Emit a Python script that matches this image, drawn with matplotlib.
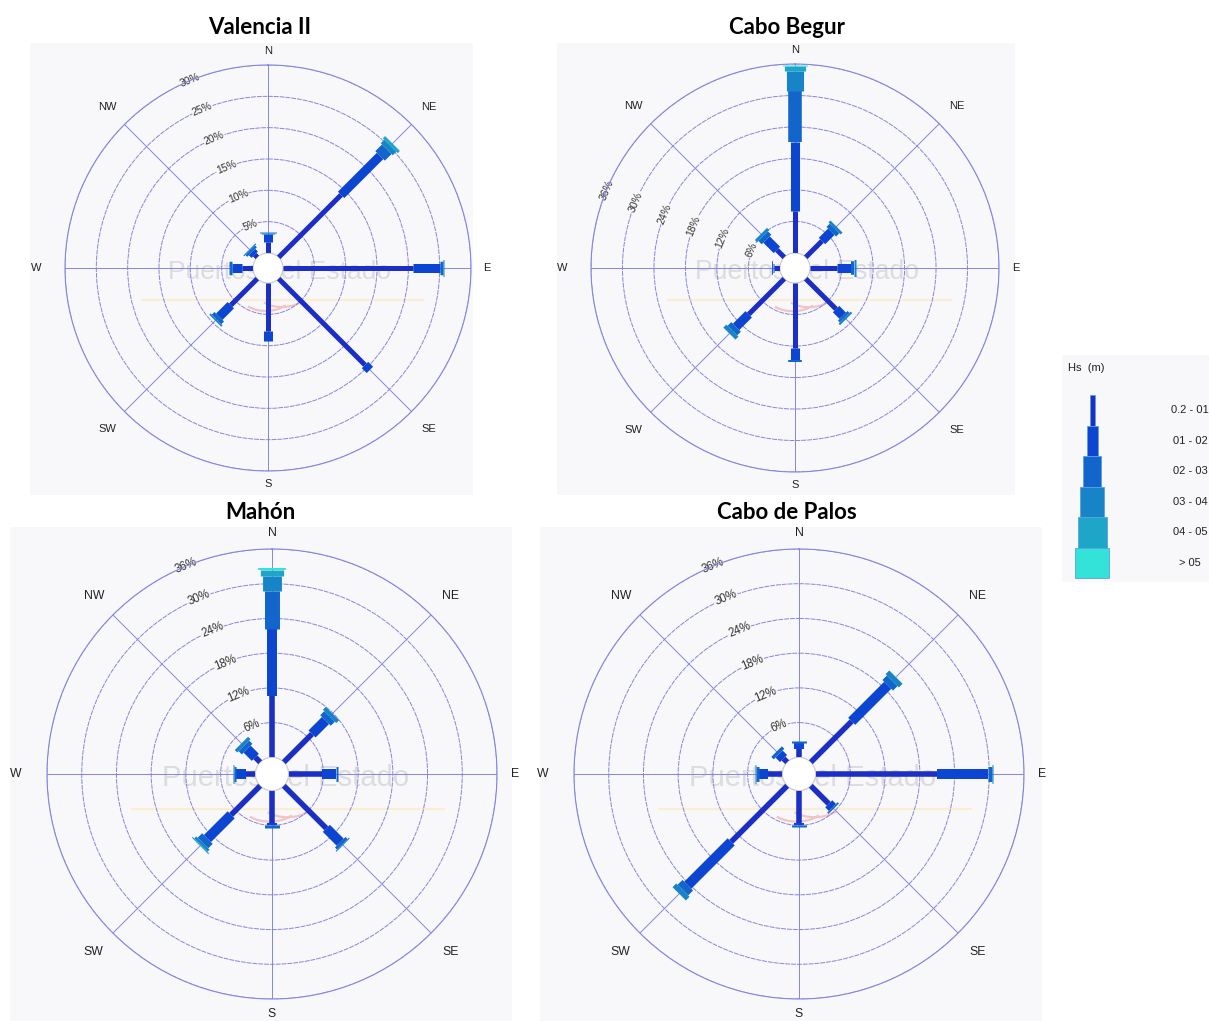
import numpy as np
import matplotlib.pyplot as plt
from matplotlib.patches import Rectangle, Circle, Arc

plt.rcParams["font.family"] = ["Liberation Sans", "DejaVu Sans"]

W, H, DPI = 1209, 1021, 100

# ---------------- data ----------------
directions = ["N", "NE", "E", "SE", "S", "SW", "W", "NW"]
dir_angles = [0, 45, 90, 135, 180, 225, 270, 315]
hs_classes = ["0.2 - 01", "01 - 02", "02 - 03", "03 - 04", "04 - 05", "> 05"]
hs_colors = ["#1c2fc4", "#0b45d2", "#1265cb", "#1784c8", "#1ea6c9", "#33e3da"]

stations = ["Valencia II", "Cabo Begur", "Mahón", "Cabo de Palos"]

# frequency (%) per direction (N..NW) and per Hs class
valencia = [
    [1.7, 1.3, 0.25, 0.1, 0, 0],
    [14.1, 8.8, 1.5, 0.8, 0.5, 0],
    [20.8, 4.2, 0.5, 0.2, 0, 0],
    [19.5, 1.1, 0, 0, 0, 0],
    [7.6, 1.7, 0, 0, 0, 0],
    [6.0, 2.6, 0.6, 0.3, 0, 0],
    [1.7, 1.7, 0.4, 0, 0, 0],
    [0.6, 0.6, 0.4, 0.2, 0, 0],
]
begur = [
    [8.0, 13.2, 9.6, 3.8, 1.0, 0.3],
    [4.4, 2.5, 0.9, 0.5, 0, 0],
    [5.2, 2.6, 0.6, 0.4, 0, 0],
    [8.2, 1.8, 0.5, 0.4, 0, 0],
    [12.3, 2.3, 0.5, 0, 0, 0],
    [9.6, 3.4, 1.0, 0.8, 0, 0],
    [1.1, 0.3, 0.2, 0, 0, 0],
    [2.0, 2.8, 0.9, 0.6, 0, 0],
]
mahon = [
    [10.6, 11.6, 6.5, 2.6, 1.0, 0.4],
    [6.9, 3.3, 1.0, 0.7, 0, 0],
    [5.7, 2.4, 0.4, 0, 0, 0],
    [10.4, 3.4, 0.5, 0.2, 0, 0],
    [5.6, 0.4, 0.4, 0, 0, 0],
    [7.1, 5.8, 1.1, 0.5, 0.2, 0],
    [1.6, 1.7, 0.4, 0.2, 0, 0],
    [1.2, 2.0, 0.8, 0.6, 0, 0],
]
palos = [
    [1.5, 1.0, 0.4, 0, 0, 0],
    [10.0, 8.8, 1.1, 0.9, 0, 0],
    [21.0, 8.8, 0.6, 0.2, 0, 0],
    [4.4, 0.9, 0.3, 0, 0, 0],
    [5.6, 0.4, 0.2, 0, 0, 0],
    [13.7, 10.6, 1.2, 0.9, 0, 0],
    [2.4, 1.6, 0.5, 0.2, 0, 0],
    [0.9, 1.1, 0.6, 0, 0, 0],
]
freqs = [valencia, begur, mahon, palos]
rings = [[5, 10, 15, 20, 25, 30],
         [6, 12, 18, 24, 30, 36],
         [6, 12, 18, 24, 30, 36],
         [6, 12, 18, 24, 30, 36]]
ring_label_dir = [-22.5, -67.5, -22.5, -22.5]

# ---------------- layout (pixels) ----------------
centers = [(268, 268), (795, 268), (272, 774), (799, 774)]
radii = [203, 204, 225, 225]
panels = [(30, 43, 473, 495), (557, 43, 1015, 495), (10, 527, 512, 1021), (540, 527, 1042, 1021)]
title_xy = [(260, 28), (787, 28), (260, 512), (787, 512)]
label_fac = [1.07, 1.12, 1.08, 1.12, 1.065, 1.12, 1.14, 1.12]
bar_px = [5, 9, 13.5, 17, 21, 25]
HOLE = 0.074
PANEL = "#f8f8fa"
RING = "#8585e0"
DASH = (0, (5, 1))

fig = plt.figure(figsize=(W / DPI, H / DPI), dpi=DPI)
base = fig.add_axes([0, 0, 1, 1])
base.set_xlim(0, W)
base.set_ylim(H, 0)
base.axis("off")

for i in range(4):
    cx, cy = centers[i]
    R = radii[i]
    k = R / 203.0
    x0, y0, x1, y1 = panels[i]
    base.add_patch(Rectangle((x0, y0), x1 - x0, y1 - y0, fc=PANEL, ec="none", zorder=0))
    base.text(*title_xy[i], stations[i], fontsize=16, fontweight="bold", family="Lato",
              ha="center", va="center")

    # watermark
    base.text(cx + 12 * k, cy + 4 * k, "Puertos del Estado", fontsize=19 * k, color="#dcdcde",
              ha="center", va="center", zorder=1)
    base.plot([cx - 126 * k, cx + 155 * k], [cy + 32 * k] * 2, color="#fcecd0", lw=1.5, zorder=1)
    for dx, dy in [(-2, 28), (14, 24)]:
        base.add_patch(Arc((cx + dx * k, cy + dy * k), 50 * k, 30 * k, theta1=25, theta2=150,
                           color="#f3c4c4", lw=1.6, zorder=1))
    base.add_patch(Circle((cx, cy), HOLE * R, fc="white", ec="none", zorder=2))

    ax = fig.add_axes([(cx - R) / W, 1 - (cy + R) / H, 2 * R / W, 2 * R / H], projection="polar")
    ax.set_facecolor("none")
    ax.set_theta_zero_location("N")
    ax.set_theta_direction(-1)
    pmax = rings[i][-1]
    ax.set_ylim(0, pmax)
    ax.set_rorigin(-HOLE * pmax / (1 - HOLE))
    ax.set_yticks(rings[i])
    ax.set_yticklabels([])
    ax.set_xticks(np.deg2rad(dir_angles))
    ax.set_xticklabels([])
    ax.yaxis.grid(True, color=RING, lw=0.7, ls=DASH)
    ax.xaxis.grid(True, color=RING, lw=0.7)
    ax.spines["polar"].set_color(RING)
    ax.spines["polar"].set_linewidth(0.8)
    ax.spines["polar"].set_linestyle(DASH)
    ax.spines["inner"].set_color("#c8c8cc")
    ax.spines["inner"].set_linewidth(0.8)

    # ring labels
    th_lab = np.deg2rad(ring_label_dir[i])
    for p in rings[i]:
        ax.text(th_lab, p, f"{p}%", rotation=-ring_label_dir[i], rotation_mode="anchor",
                ha="center", va="center", fontsize=7.5 * k, color="#333333",
                bbox=dict(fc=PANEL, ec="none", pad=0.4), zorder=2)

    # direction labels
    for name, ang, f in zip(directions, dir_angles, label_fac):
        a = np.deg2rad(ang)
        ax.text(0.5 + 0.5 * f * np.sin(a), 0.5 + 0.5 * f * np.cos(a), name,
                transform=ax.transAxes, ha="center", va="center", fontsize=8 * k, color="#222222")

    # stacked bars
    for j, ang in enumerate(dir_angles):
        th = np.deg2rad(ang)
        cum = np.concatenate([[0], np.cumsum(freqs[i][j])])
        for c in range(len(hs_classes)):
            if cum[c + 1] > cum[c]:
                ax.plot([th, th], [cum[c], cum[c + 1]], color=hs_colors[c],
                        lw=bar_px[c] * k * 0.72, solid_capstyle="butt", zorder=3)

# ---------------- legend ----------------
base.add_patch(Rectangle((1062, 355), 150, 227, fc=PANEL, ec="none", zorder=0))
base.text(1068, 368, "Hs  (m)", fontsize=8, ha="left", va="center", color="#222222")
leg_w = [5, 11, 18, 24, 29, 34]
seg_h = 30.5
for c, lab in enumerate(hs_classes):
    top = 395 + c * seg_h
    base.add_patch(Rectangle((1092 - leg_w[c] / 2, top), leg_w[c], seg_h, fc=hs_colors[c],
                             ec="#5aa0e0", lw=0.6, zorder=2))
    base.text(1190, top + seg_h / 2, lab, fontsize=8, ha="center", va="center", color="#222222")

fig.savefig("out.png", dpi=DPI)
